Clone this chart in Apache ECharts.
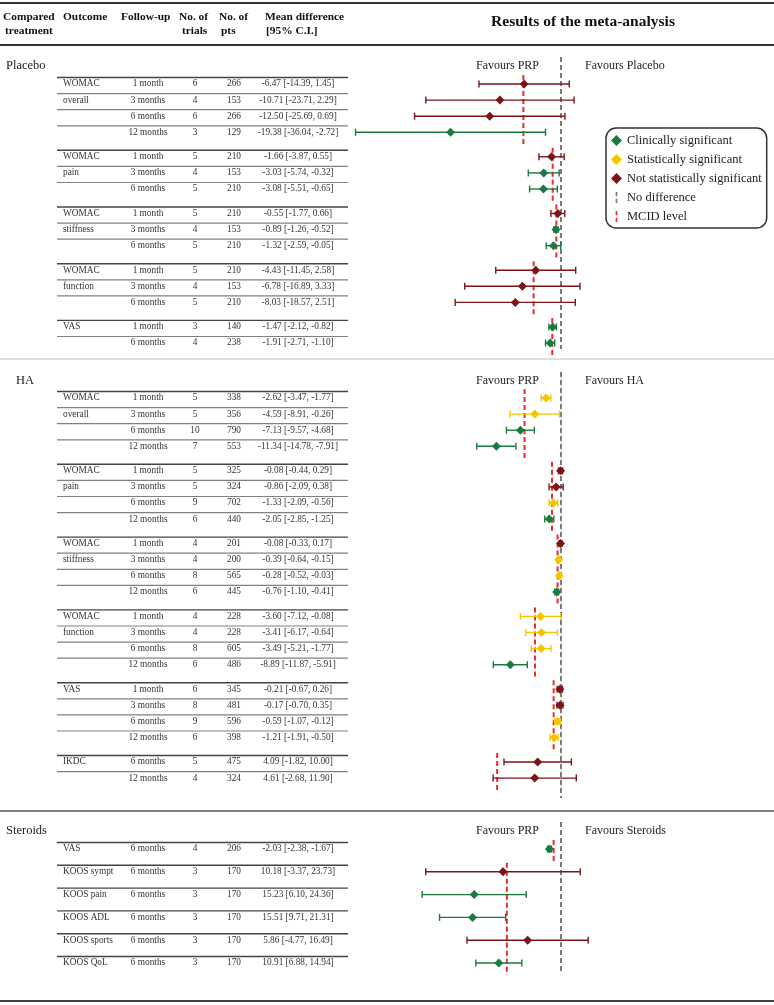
<!DOCTYPE html>
<html><head><meta charset="utf-8">
<script src="https://cdn.jsdelivr.net/npm/echarts@6/dist/echarts.min.js"></script>
<style>html,body{margin:0;padding:0;background:#fff}#c{width:774px;height:1005px}</style>
</head><body><div id="c"></div><script>
// ---------------- DATA ----------------
const sections = ['Placebo', 'HA', 'Steroids'];
const favoursOther = ['Favours Placebo', 'Favours HA', 'Favours Steroids'];
const favoursPRP = 'Favours PRP';
const classNames = ['Clinically significant', 'Statistically significant', 'Not statistically significant'];
const refLineNames = ['No difference', 'MCID level'];

const outcomeSection = [0,0,0,0,0, 1,1,1,1,1,1, 2,2,2,2,2,2];
const outcomeLabel = [['WOMAC','overall'],['WOMAC','pain'],['WOMAC','stiffness'],['WOMAC','function'],['VAS'],
  ['WOMAC','overall'],['WOMAC','pain'],['WOMAC','stiffness'],['WOMAC','function'],['VAS'],['IKDC'],
  ['VAS'],['KOOS sympt'],['KOOS pain'],['KOOS ADL'],['KOOS sports'],['KOOS QoL']];
// 1 = higher score favours PRP (drawn mirrored so PRP side is left)
const outcomeHigherBetter = [0,0,0,0,0, 0,0,0,0,0,1, 0,1,1,1,1,1];
const outcomeMcid = [6.6,1.46,0.82,4.8,1.53, 6.4,1.58,0.6,4.56,1.29,11.2, 1.29,9.5,9.5,9.5,9.5,9.5];

const rowOutcome = [0,0,0,0, 1,1,1, 2,2,2, 3,3,3, 4,4, 5,5,5,5, 6,6,6,6, 7,7,7,7, 8,8,8,8, 9,9,9,9, 10,10, 11,12,13,14,15,16];
const rowFollowUp = ['1 month','3 months','6 months','12 months', '1 month','3 months','6 months', '1 month','3 months','6 months',
  '1 month','3 months','6 months', '1 month','6 months',
  '1 month','3 months','6 months','12 months', '1 month','3 months','6 months','12 months', '1 month','3 months','6 months','12 months',
  '1 month','3 months','6 months','12 months', '1 month','3 months','6 months','12 months', '6 months','12 months',
  '6 months','6 months','6 months','6 months','6 months','6 months'];
const rowTrials = [6,4,6,3, 5,4,5, 5,4,5, 5,4,5, 3,4, 5,5,10,7, 5,5,9,6, 4,4,8,6, 4,4,8,6, 6,8,9,6, 5,4, 4,3,3,3,3,3];
const rowPts = [266,153,266,129, 210,153,210, 210,153,210, 210,153,210, 140,238,
  338,356,790,553, 325,324,702,440, 201,200,565,445, 228,228,605,486, 345,481,596,398, 475,324,
  206,170,170,170,170,170];
const rowMean = [-6.47,-10.71,-12.50,-19.38, -1.66,-3.03,-3.08, -0.55,-0.89,-1.32, -4.43,-6.78,-8.03, -1.47,-1.91,
  -2.62,-4.59,-7.13,-11.34, -0.08,-0.86,-1.33,-2.05, -0.08,-0.39,-0.28,-0.76, -3.60,-3.41,-3.49,-8.89,
  -0.21,-0.17,-0.59,-1.21, 4.09,4.61, -2.03,10.18,15.23,15.51,5.86,10.91];
const rowLow = [-14.39,-23.71,-25.69,-36.04, -3.87,-5.74,-5.51, -1.77,-1.26,-2.59, -11.45,-16.89,-18.57, -2.12,-2.71,
  -3.47,-8.91,-9.57,-14.78, -0.44,-2.09,-2.09,-2.85, -0.33,-0.64,-0.52,-1.10, -7.12,-6.17,-5.21,-11.87,
  -0.67,-0.70,-1.07,-1.91, -1.82,-2.68, -2.38,-3.37,6.10,9.71,-4.77,6.88];
const rowHigh = [1.45,2.29,0.69,-2.72, 0.55,-0.32,-0.65, 0.66,-0.52,-0.05, 2.58,3.33,2.51, -0.82,-1.10,
  -1.77,-0.26,-4.68,-7.91, 0.29,0.38,-0.56,-1.25, 0.17,-0.15,-0.03,-0.41, -0.08,-0.64,-1.77,-5.91,
  0.26,0.35,-0.12,-0.50, 10.00,11.90, -1.67,23.73,24.36,21.31,16.49,14.94];
// 0 clinically significant, 1 statistically significant, 2 not statistically significant
const rowClass = [2,2,2,0, 2,0,0, 2,0,0, 2,2,2, 0,0,
  1,1,0,0, 2,2,1,0, 2,1,1,0, 1,1,1,0, 2,2,1,1, 2,2,
  0,2,0,0,2,0];

// ---------------- STYLE / LAYOUT ----------------
const FONT = '"Liberation Serif", "Times New Roman", serif';
const classColors = ['#1c7a3f', '#f6c500', '#7b1518'];
const LAYOUT = {
  sectionLabelY: [66, 381, 831], sectionLabelX: [6, 16, 6],
  firstRowY: [84, 398, 849], rowPitch: 16.1, groupStep: [24.5, 24.5, 22.8],
  zeroTail: [6, 20, 11], separators: [[359, '#bdbdbd', 1], [811, '#555', 1.5]]
};

const rowY = [];
(function () {
  let y = 0, ps = -1, po = -1;
  rowOutcome.forEach(o => {
    const s = outcomeSection[o];
    if (s !== ps) y = LAYOUT.firstRowY[s];
    else if (o !== po) y += LAYOUT.groupStep[s];
    else y += LAYOUT.rowPitch;
    rowY.push(y); ps = s; po = o;
  });
})();
const sgn = o => outcomeHigherBetter[o] ? -1 : 1;

const ciSeries = classNames.map((name, k) => ({
  name, type: 'custom', xAxisIndex: 1, yAxisIndex: 1, itemStyle: { color: classColors[k] }, z: 5,
  data: rowOutcome.map((o, i) => i).filter(i => rowClass[i] === k).map(i => {
    const s = sgn(rowOutcome[i]);
    const a = s * rowLow[i], b = s * rowHigh[i];
    return [s * rowMean[i], Math.min(a, b), Math.max(a, b), rowY[i]];
  }),
  renderItem(params, api) {
    const y = api.coord([0, api.value(3)])[1];
    const m = api.coord([api.value(0), api.value(3)])[0];
    const lo = api.coord([api.value(1), api.value(3)])[0];
    const hi = api.coord([api.value(2), api.value(3)])[0];
    const c = api.visual('color'), cap = 3.5, d = 4.5, lw = 1.4;
    return { type: 'group', children: [
      { type: 'line', shape: { x1: lo, y1: y, x2: hi, y2: y }, style: { stroke: c, lineWidth: lw } },
      { type: 'line', shape: { x1: lo, y1: y - cap, x2: lo, y2: y + cap }, style: { stroke: c, lineWidth: lw } },
      { type: 'line', shape: { x1: hi, y1: y - cap, x2: hi, y2: y + cap }, style: { stroke: c, lineWidth: lw } },
      { type: 'polygon', shape: { points: [[m, y - d], [m + d, y], [m, y + d], [m - d, y]] }, style: { fill: c } }
    ] };
  }
}));

function dashed(color, dash) {
  return function (params, api) {
    const p1 = api.coord([api.value(0), api.value(1)]);
    const p2 = api.coord([api.value(0), api.value(2)]);
    return { type: 'line', shape: { x1: p1[0], y1: p1[1], x2: p2[0], y2: p2[1] },
      style: { stroke: color, lineWidth: 2, lineDash: dash } };
  };
}
// zero line per section
const zeroData = sections.map((s, k) => {
  const ys = rowY.filter((y, i) => outcomeSection[rowOutcome[i]] === k);
  return [0, LAYOUT.sectionLabelY[k] - 9, ys[ys.length - 1] + LAYOUT.zeroTail[k]];
});
// MCID segments (adjacent outcomes with same MCID merged)
const mcidData = [];
outcomeMcid.forEach((v, o) => {
  const ys = rowY.filter((y, i) => rowOutcome[i] === o);
  const last = mcidData[mcidData.length - 1];
  if (last && last.sec === outcomeSection[o] && last.v === v) { last.end = ys[ys.length - 1] + 12; }
  else mcidData.push({ v, sec: outcomeSection[o], start: ys[0] - 9, end: ys[ys.length - 1] + 12 });
});

const tableSeries = {
  type: 'custom', xAxisIndex: 0, yAxisIndex: 0, silent: true,
  data: rowY.map((y, i) => [i, y]),
  renderItem(params, api) {
    const i = api.value(0);
    const y = api.coord([0, api.value(1)])[1];
    const o = rowOutcome[i];
    const firstInGroup = i === 0 || rowOutcome[i - 1] !== o;
    const idxInGroup = rowOutcome.slice(0, i).filter(v => v === o).length;
    const f = '9.3px ' + FONT;
    const t = (text, x, align) => ({ type: 'text', x, y, style: { text: String(text), font: f, fill: '#333',
      align, textAlign: align, verticalAlign: 'middle', textVerticalAlign: 'middle' } });
    const ch = [
      { type: 'line', shape: { x1: 57, y1: y - 6.5, x2: 348, y2: y - 6.5 },
        style: { stroke: firstInGroup ? '#444' : '#808080', lineWidth: firstInGroup ? 1.4 : 1.2 } },
      t(rowFollowUp[i], 148, 'center'), t(rowTrials[i], 195, 'center'), t(rowPts[i], 234, 'center'),
      t(rowMean[i].toFixed(2) + ' [' + rowLow[i].toFixed(2) + ', ' + rowHigh[i].toFixed(2) + ']', 298, 'center')
    ];
    const lab = outcomeLabel[o][idxInGroup];
    if (lab) ch.push(t(lab, 63, 'left'));
    return { type: 'group', children: ch };
  }
};

const sectionSeries = {
  type: 'custom', xAxisIndex: 1, yAxisIndex: 1, silent: true,
  data: sections.map((s, k) => [k, LAYOUT.sectionLabelY[k]]),
  renderItem(params, api) {
    const k = api.value(0);
    const p = api.coord([0, api.value(1)]);
    const txt = (text, x, align, size) => ({ type: 'text', x, y: p[1], style: { text, font: size + 'px ' + FONT,
      fill: '#222', align, textAlign: align, verticalAlign: 'middle', textVerticalAlign: 'middle' } });
    return { type: 'group', children: [
      txt(sections[k], LAYOUT.sectionLabelX[k], 'left', 12.5),
      txt(favoursPRP, p[0] - 22, 'right', 12),
      txt(favoursOther[k], p[0] + 24, 'left', 12)
    ] };
  }
};

const dashIcon = 'path://M0,0h2v5h-2z M0,8h2v5h-2z';

const hdr = (text, x, y, align) => ({ type: 'text', x, y, style: { text, font: 'bold 11.4px ' + FONT, fill: '#111',
  align: align || 'left', textAlign: align || 'left', verticalAlign: 'middle', textVerticalAlign: 'middle' } });
const rule = (y, color, w) => ({ type: 'line', shape: { x1: 0, y1: y, x2: 774, y2: y }, style: { stroke: color, lineWidth: w } });

const option = {
  animation: false,
  grid: [{ left: 0, right: 0, top: 0, bottom: 0 }, { left: 333, right: 42, top: 0, bottom: 0 }],
  xAxis: [{ gridIndex: 0, type: 'value', min: 0, max: 774, show: false },
          { gridIndex: 1, type: 'value', min: -40, max: 30, show: false }],
  yAxis: [{ gridIndex: 0, type: 'value', min: 0, max: 1005, inverse: true, show: false },
          { gridIndex: 1, type: 'value', min: 0, max: 1005, inverse: true, show: false }],
  legend: {
    orient: 'vertical', left: 606, top: 128, selectedMode: false,
    backgroundColor: '#fff', borderColor: '#333', borderWidth: 1.5, borderRadius: 10,
    padding: [6, 5, 5, 5], itemGap: 6, itemWidth: 11, itemHeight: 11,
    textStyle: { fontFamily: FONT, fontSize: 12.5, color: '#222' },
    data: [
      { name: classNames[0], icon: 'diamond' }, { name: classNames[1], icon: 'diamond' },
      { name: classNames[2], icon: 'diamond' },
      { name: refLineNames[0], icon: dashIcon }, { name: refLineNames[1], icon: dashIcon }
    ]
  },
  graphic: [
    rule(3, '#333', 2), rule(45, '#333', 2), rule(1001, '#444', 2),
    ...LAYOUT.separators.map(s => rule(s[0], s[1], s[2])),
    hdr('Compared', 3, 17), hdr('treatment', 5, 31), hdr('Outcome', 63, 17), hdr('Follow-up', 121, 17),
    hdr('No. of', 179, 17), hdr('trials', 182, 31), hdr('No. of', 219, 17), hdr('pts', 221, 31),
    hdr('Mean difference', 265, 17), hdr('[95% C.I.]', 266, 31),
    { type: 'text', x: 583, y: 22, style: { text: 'Results of the meta-analysis', font: 'bold 15.5px ' + FONT, fill: '#111',
      align: 'center', textAlign: 'center', verticalAlign: 'middle', textVerticalAlign: 'middle' } }
  ],
  series: [
    tableSeries, sectionSeries,
    { name: refLineNames[0], type: 'custom', xAxisIndex: 1, yAxisIndex: 1, itemStyle: { color: '#7a7a7a' }, z: 2,
      data: zeroData, renderItem: dashed('#7a7a7a', [5, 3]) },
    { name: refLineNames[1], type: 'custom', xAxisIndex: 1, yAxisIndex: 1, itemStyle: { color: '#ee2a2a' }, z: 3,
      data: mcidData.map(d => [-d.v, d.start, d.end]), renderItem: dashed('#ee2a2a', [5, 3]) },
    ...ciSeries
  ]
};
const chart = echarts.init(document.getElementById('c'), null, { renderer: 'canvas' });
chart.setOption(option);
</script></body></html>
